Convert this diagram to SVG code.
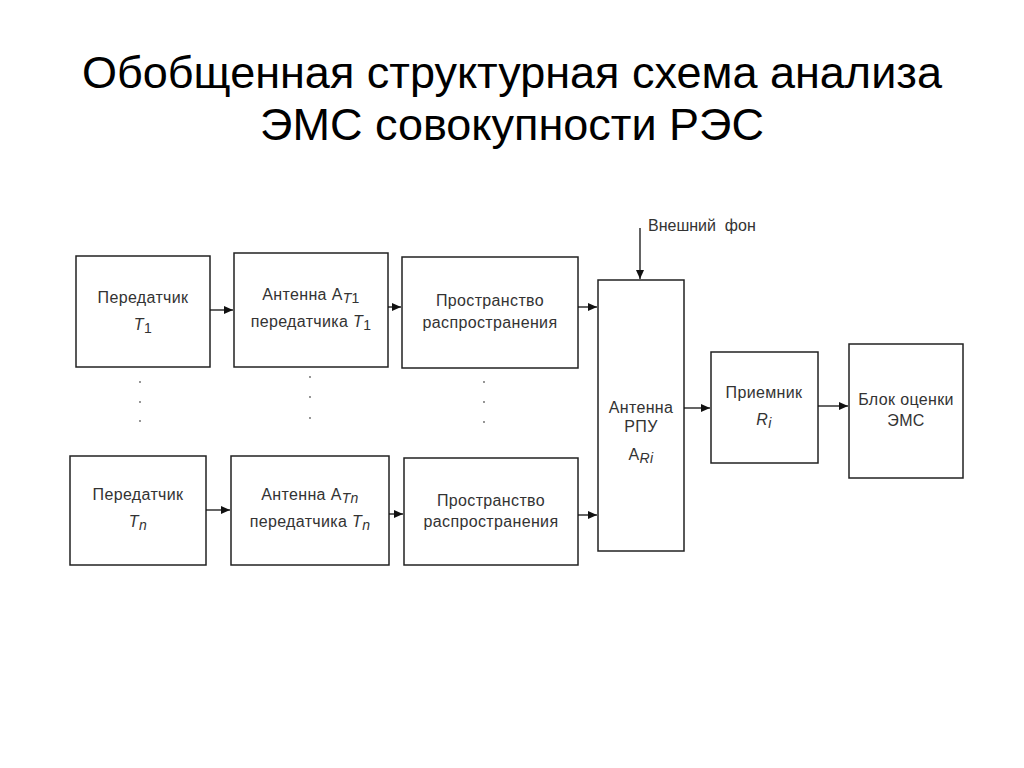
<svg xmlns="http://www.w3.org/2000/svg" width="1024" height="768" viewBox="0 0 1024 768">
<style>
.title{font-family:"Liberation Sans",Arial,sans-serif;font-size:45px;fill:#000;text-anchor:middle}
.box{fill:#fff;stroke:#222;stroke-width:1.5}
.t{font-family:"Liberation Sans",Arial,sans-serif;font-size:16px;fill:#333;text-anchor:middle;letter-spacing:0.35px}
.i{font-style:italic}
.sub{font-size:14px}
.conn{stroke:#111;stroke-width:1.3;fill:none;marker-end:url(#ah)}
.dot{fill:#666}
</style>
<defs>
<marker id="ah" markerWidth="10" markerHeight="8" refX="9" refY="4" orient="auto" markerUnits="userSpaceOnUse">
<path d="M0,0 L9,4 L0,8 Z" fill="#111"/>
</marker>
</defs>
<rect width="1024" height="768" fill="#fff"/>
<text class="title" x="512" y="88">Обобщенная структурная схема анализа</text>
<text class="title" x="512" y="140">ЭМС совокупности РЭС</text>

<g id="tx1"><rect class="box" x="76" y="256" width="134" height="111"/>
<text class="t" x="143" y="303">Передатчик</text>
<text class="t" x="143" y="330"><tspan class="i">T</tspan><tspan class="sub" dy="3">1</tspan></text></g>

<g id="ant1"><rect class="box" x="234" y="253" width="154" height="114"/>
<text class="t" x="311" y="300">Антенна А<tspan class="sub i" dy="3">T</tspan><tspan class="sub">1</tspan></text>
<text class="t" x="311" y="327">передатчика <tspan class="i">T</tspan><tspan class="sub" dy="3">1</tspan></text></g>

<g id="space1"><rect class="box" x="402" y="257" width="176" height="111"/>
<text class="t" x="490" y="306">Пространство</text>
<text class="t" x="490" y="328">распространения</text></g>

<g id="tx2"><rect class="box" x="70" y="456" width="136" height="109"/>
<text class="t" x="138" y="500">Передатчик</text>
<text class="t" x="138" y="527"><tspan class="i">T</tspan><tspan class="sub i" dy="3">n</tspan></text></g>

<g id="ant2"><rect class="box" x="231" y="456" width="158" height="109"/>
<text class="t" x="310" y="500">Антенна А<tspan class="sub i" dy="3">Tn</tspan></text>
<text class="t" x="310" y="527">передатчика <tspan class="i">T</tspan><tspan class="sub i" dy="3">n</tspan></text></g>

<g id="space2"><rect class="box" x="404" y="458" width="174" height="107"/>
<text class="t" x="491" y="506">Пространство</text>
<text class="t" x="491" y="527">распространения</text></g>

<g id="rant"><rect class="box" x="598" y="280" width="86" height="271"/>
<text class="t" x="641" y="413">Антенна</text>
<text class="t" x="641" y="432">РПУ</text>
<text class="t" x="641" y="460">А<tspan class="sub i" dy="3">Ri</tspan></text></g>

<g id="rx"><rect class="box" x="711" y="352" width="107" height="111"/>
<text class="t" x="764" y="398">Приемник</text>
<text class="t" x="764" y="425"><tspan class="i">R</tspan><tspan class="sub i" dy="3">i</tspan></text></g>

<g id="ems"><rect class="box" x="849" y="344" width="114" height="134"/>
<text class="t" x="906" y="405">Блок оценки</text>
<text class="t" x="906" y="426">ЭМС</text></g>

<g id="bg"><text class="t" x="648" y="231" style="text-anchor:start;letter-spacing:0" xml:space="preserve">Внешний  фон</text></g>

<g id="connectors">
<line class="conn" x1="210" y1="310" x2="233" y2="310"/>
<line class="conn" x1="388" y1="307" x2="401" y2="307"/>
<line class="conn" x1="578" y1="307" x2="597" y2="307"/>
<line class="conn" x1="206" y1="510" x2="230" y2="510"/>
<line class="conn" x1="389" y1="514" x2="403" y2="514"/>
<line class="conn" x1="578" y1="515" x2="597" y2="515"/>
<line class="conn" x1="684" y1="408" x2="710" y2="408"/>
<line class="conn" x1="818" y1="406" x2="848" y2="406"/>
<line class="conn" x1="640" y1="228" x2="640" y2="279"/>
</g>

<g id="dots">
<circle class="dot" cx="140" cy="382" r="0.9"/><circle class="dot" cx="140" cy="402" r="0.9"/><circle class="dot" cx="140" cy="421" r="0.9"/>
<circle class="dot" cx="310" cy="377" r="0.9"/><circle class="dot" cx="310" cy="397" r="0.9"/><circle class="dot" cx="310" cy="418" r="0.9"/>
<circle class="dot" cx="484" cy="382" r="0.9"/><circle class="dot" cx="484" cy="402" r="0.9"/><circle class="dot" cx="484" cy="422" r="0.9"/>
</g>
</svg>
